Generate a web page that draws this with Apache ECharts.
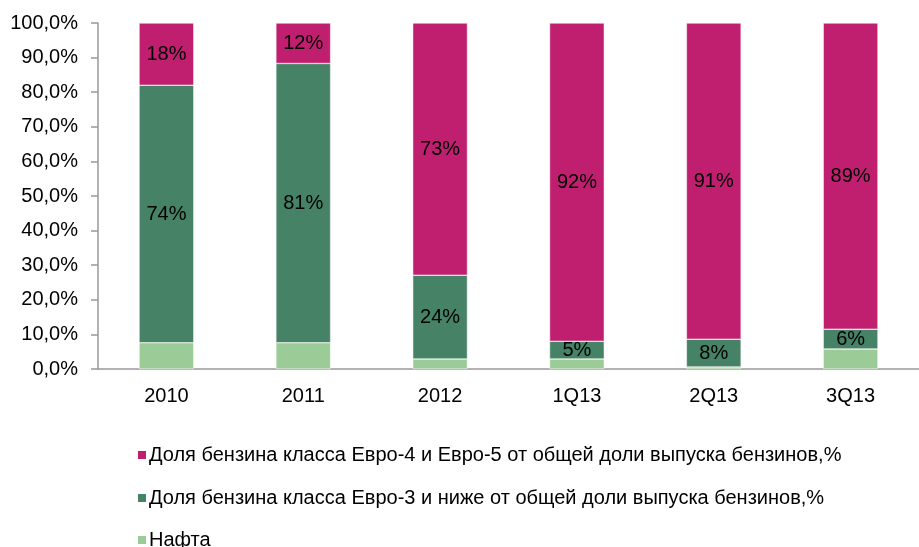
<!DOCTYPE html>
<html>
<head>
<meta charset="utf-8">
<script src="https://cdn.jsdelivr.net/npm/echarts@6/dist/echarts.min.js"></script>
<style>
  html, body { margin: 0; padding: 0; background: #fff; }
  #main { width: 919px; height: 547px; }
</style>
</head>
<body>
<div id="main"></div>
<script>
var categories = ['2010', '2011', '2012', '1Q13', '2Q13', '3Q13'];
var naphtha = [7.6, 7.6, 2.9, 2.9, 0.6, 5.8];
var euro3 = [74.4, 80.7, 24.2, 5.1, 8.0, 5.7];
var euro45 = [18.0, 11.7, 72.9, 92.0, 91.4, 88.5];
var names = [
  'Доля бензина класса Евро-4 и Евро-5 от общей доли выпуска бензинов,%',
  'Доля бензина класса Евро-3 и ниже от общей доли выпуска бензинов,%',
  'Нафта'
];

var font = '"Liberation Sans Narrow", "Arial Narrow", "Liberation Sans", Arial, sans-serif';

var myChart = echarts.init(document.getElementById('main'));

function pctLabel(p) {
  return Math.round(p.value) + '%';
}

var barLabel = {
  show: true,
  position: 'inside',
  color: '#000',
  fontFamily: font,
  fontSize: 20,
  formatter: pctLabel
};

// one legend per row, so the rows sit where the reference has them
var legendTops = [440, 483, 525];
var legends = names.map(function (n, i) {
  return {
    left: 131,
    top: legendTops[i],
    icon: 'rect',
    itemWidth: 10,
    itemHeight: 10,
    data: [n],
    textStyle: { fontFamily: font, fontSize: 20, color: '#000', padding: [0, 0, 0, -3] }
  };
});

var option = {
  animation: false,
  textStyle: { fontFamily: font },
  grid: { left: 98, top: 23, width: 826, bottom: 178 },
  legend: legends,
  xAxis: {
    type: 'category',
    data: categories,
    axisLine: { lineStyle: { color: '#999', width: 1.5 } },
    axisTick: { length: 7, lineStyle: { color: '#999', width: 1.5 } },
    axisLabel: { color: '#000', fontFamily: font, fontSize: 20, margin: 17 }
  },
  yAxis: {
    type: 'value',
    min: 0,
    max: 100,
    interval: 10,
    splitLine: { show: false },
    axisLine: { show: true, lineStyle: { color: '#999', width: 1.5 } },
    axisTick: { show: true, length: 7, lineStyle: { color: '#999', width: 1.5 } },
    axisLabel: {
      color: '#000',
      fontFamily: font,
      fontSize: 20,
      margin: 20,
      formatter: function (v) { return v.toFixed(1).replace('.', ',') + '%'; }
    }
  },
  series: [
    {
      name: names[2],
      type: 'bar',
      stack: 'total',
      barWidth: '40%',
      data: naphtha,
      itemStyle: { color: '#9BCC98', borderColor: '#fff', borderWidth: 0.5 }
    },
    {
      name: names[1],
      type: 'bar',
      stack: 'total',
      data: euro3,
      label: barLabel,
      itemStyle: { color: '#468265', borderColor: '#fff', borderWidth: 0.5 }
    },
    {
      name: names[0],
      type: 'bar',
      stack: 'total',
      data: euro45,
      label: barLabel,
      itemStyle: { color: '#C01F6F', borderColor: '#fff', borderWidth: 0.5 }
    }
  ]
};

myChart.setOption(option);
</script>
</body>
</html>
